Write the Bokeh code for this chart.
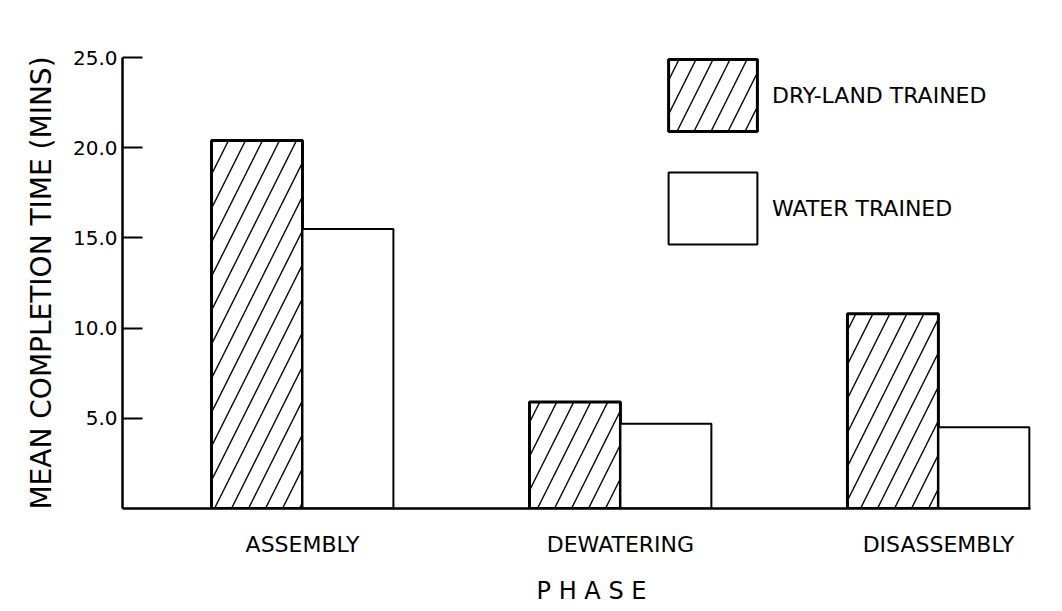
import numpy as np
from bokeh.plotting import figure
from bokeh.models import Range1d, FixedTicker, Legend, LegendItem, ColumnDataSource
from bokeh.embed import file_html
from bokeh.resources import INLINE

# ---- data ----
phases = ["ASSEMBLY", "DEWATERING", "DISASSEMBLY"]
dry_land = [20.4, 5.9, 10.8]
water = [15.5, 4.7, 4.5]
y_ticks = [5, 10, 15, 20, 25]
y_tick_labels = ["5.0", "10.0", "15.0", "20.0", "25.0"]
series_names = ["DRY-LAND TRAINED", "WATER TRAINED"]

FONT = "DejaVu Sans"
bar_w = 0.286
idx = np.arange(len(phases))

p = figure(width=1060, height=611, output_backend="svg", toolbar_location=None,
           x_range=Range1d(-0.566, 2.384), y_range=Range1d(0, 25),
           min_border_left=122, min_border_right=0, min_border_top=57, min_border_bottom=103)
p.outline_line_color = None
p.xgrid.grid_line_color = None
p.ygrid.grid_line_color = None
p.background_fill_color = "white"
p.border_fill_color = "white"

src_dry = ColumnDataSource(dict(x=idx - bar_w / 2, top=dry_land))
src_wat = ColumnDataSource(dict(x=idx + bar_w / 2, top=water))

r_dry = p.vbar(x="x", top="top", bottom=0, width=bar_w, source=src_dry,
               fill_color="white", line_color="black", line_width=3,
               hatch_pattern="/", hatch_color="black", hatch_scale=34, hatch_weight=1.4)
r_wat = p.vbar(x="x", top="top", bottom=0, width=bar_w, source=src_wat,
               fill_color="white", line_color="black", line_width=2)

# x axis
xa = p.xaxis[0]
xa.ticker = FixedTicker(ticks=list(idx))
xa.major_label_overrides = {int(i): n for i, n in zip(idx, phases)}
xa.major_tick_line_color = None
xa.minor_tick_line_color = None
xa.axis_line_width = 2.5
xa.axis_line_color = "black"
xa.bounds = (-0.566, 2.29)
xa.major_label_text_font = FONT
xa.major_label_text_font_size = "22px"
xa.major_label_text_color = "black"
xa.major_label_standoff = 17
xa.axis_label = "P H A S E"
xa.axis_label_text_font = FONT
xa.axis_label_text_font_size = "24px"
xa.axis_label_text_font_style = "normal"
xa.axis_label_text_color = "black"
xa.axis_label_standoff = 17

# y axis
ya = p.yaxis[0]
ya.ticker = FixedTicker(ticks=y_ticks)
ya.major_label_overrides = {t: l for t, l in zip(y_ticks, y_tick_labels)}
ya.major_tick_in = 20
ya.major_tick_out = 0
ya.major_tick_line_width = 2
ya.major_tick_line_color = "black"
ya.minor_tick_line_color = None
ya.axis_line_width = 2.5
ya.axis_line_color = "black"
ya.major_label_text_font = FONT
ya.major_label_text_font_size = "20px"
ya.major_label_text_color = "black"
ya.major_label_standoff = 5
ya.axis_label = "MEAN COMPLETION TIME (MINS)"
ya.axis_label_text_font = FONT
ya.axis_label_text_font_size = "28px"
ya.axis_label_text_font_style = "normal"
ya.axis_label_text_color = "black"
ya.axis_label_standoff = 12

legend = Legend(items=[LegendItem(label=series_names[0], renderers=[r_dry]),
                       LegendItem(label=series_names[1], renderers=[r_wat])],
                location=(535, 255), orientation="vertical",
                glyph_width=111, glyph_height=90, spacing=23, padding=0, margin=0,
                label_standoff=4, label_text_font=FONT, label_text_font_size="22px",
                label_text_color="black", border_line_color=None,
                background_fill_alpha=0)
p.add_layout(legend)

open("out.html", "w").write(file_html(p, INLINE))
